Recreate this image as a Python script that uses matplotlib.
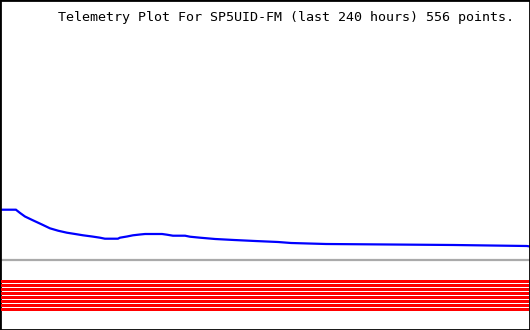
import matplotlib
matplotlib.use("Agg")
import matplotlib.pyplot as plt

# telemetry: hours back (0..240) and measured value
hours = [0, 7.2, 9.1, 11.3, 14.9, 19.0, 22.6, 26.3, 30.3, 34.0, 37.6, 41.7, 45.3,
         47.5, 53.4, 54.3, 57.5, 60.2, 63.4, 65.7, 73.4, 75.6, 78.3, 83.8, 86.0,
         90.6, 97.4, 106.0, 115.5, 125.9, 131.8, 147.6, 205.6, 238.6, 240]
values = [50.3, 50.3, 47.0, 43.5, 39.7, 35.5, 31.7, 29.3, 27.3, 26.0, 24.7, 23.5, 22.3,
          21.3, 21.3, 22.3, 23.5, 24.7, 25.5, 26.0, 26.0, 25.3, 24.3, 24.3, 23.3,
          22.3, 21.0, 20.0, 19.0, 18.0, 17.0, 16.0, 15.0, 14.0, 13.5]

baseline = 0
status_bits = [1, 2, 3, 4, 5, 6, 7, 8]

title = "Telemetry Plot For SP5UID-FM (last 240 hours) 556 points."

fig = plt.figure(figsize=(5.3, 3.3), dpi=100)
ax = fig.add_axes([0, 0, 1, 1])
ax.plot(hours, values, color="#0000ff", lw=1.6, solid_joinstyle="miter")
ax.axhline(baseline, color="#aaaaaa", lw=1.6)
ax.set_xlim(0, 240)
ax.set_ylim(-70, 260)
ax.set_xticks([])
ax.set_yticks([])
for s in ax.spines.values():
    s.set_color("black")
    s.set_linewidth(2)

ax.text(0.97, 0.948, title, transform=ax.transAxes, ha="right", va="center",
        family="DejaVu Sans Mono", fontsize=9.6)

# status bit stripes
ax2 = fig.add_axes([1 / 530, 18 / 330, 528 / 530, 32 / 330])
ax2.barh(status_bits, [240] * len(status_bits), left=0, height=0.75,
         color="#ff0000", linewidth=0, antialiased=False)
ax2.set_xlim(0, 240)
ax2.set_ylim(8.625, 0.625)
ax2.axis("off")

fig.savefig("out.png", dpi=100)
